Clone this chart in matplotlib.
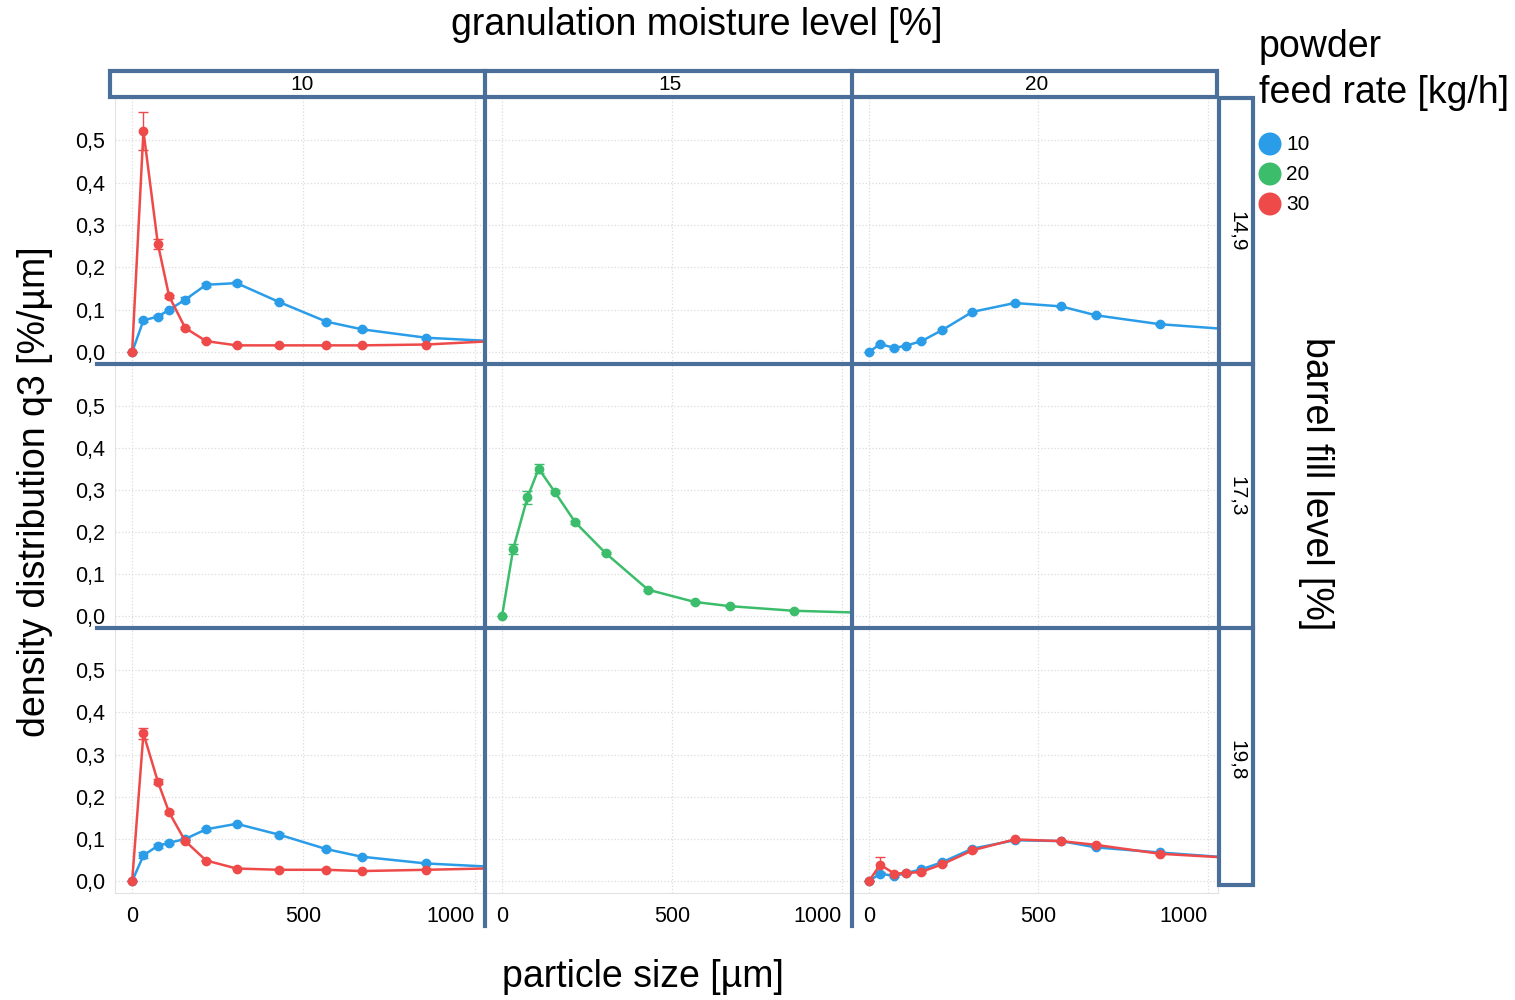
import matplotlib
matplotlib.use("Agg")
import matplotlib.pyplot as plt
from matplotlib.lines import Line2D
from matplotlib.patches import Rectangle, Ellipse

plt.rcParams['font.family'] = ['Liberation Sans', 'DejaVu Sans']

# facet levels
moisture = ['10', '15', '20']
fill_level = ['14,9', '17,3', '19,8']
feed_rate = ['10', '20', '30']
colors = {'10': '#2b9de8', '20': '#3cbd6c', '30': '#ef4a4a'}

# particle size classes [um]; last class lies beyond the shown range
size = [0, 33, 75, 108, 155, 216, 305, 430, 567, 670, 858, 1250]

# density distribution q3 [%/um] and standard deviations, per (fill row, moisture col)
q3_r0c0_f10 = [0, 0.075, 0.084, 0.100, 0.124, 0.159, 0.163, 0.118, 0.072, 0.054, 0.034, 0.018]
sd_r0c0_f10 = [0, 0.004, 0.003, 0.003, 0.006, 0.005, 0.004, 0.003, 0.003, 0.003, 0.002, 0]
q3_r0c0_f30 = [0, 0.522, 0.256, 0.132, 0.057, 0.026, 0.016, 0.016, 0.016, 0.016, 0.018, 0.034]
sd_r0c0_f30 = [0, 0.044, 0.012, 0.004, 0.003, 0.002, 0.001, 0.001, 0.001, 0.001, 0.001, 0]

q3_r0c2_f10 = [0, 0.019, 0.010, 0.015, 0.026, 0.052, 0.095, 0.116, 0.108, 0.087, 0.066, 0.043]
sd_r0c2_f10 = [0, 0.002, 0.002, 0.002, 0.002, 0.002, 0.002, 0.002, 0.002, 0.002, 0.002, 0]

q3_r1c1_f20 = [0, 0.160, 0.283, 0.351, 0.296, 0.223, 0.150, 0.063, 0.034, 0.024, 0.013, 0.004]
sd_r1c1_f20 = [0, 0.013, 0.016, 0.010, 0.004, 0.004, 0.003, 0.002, 0.002, 0.001, 0.001, 0]

q3_r2c0_f10 = [0, 0.061, 0.084, 0.091, 0.100, 0.123, 0.136, 0.110, 0.076, 0.058, 0.042, 0.026]
sd_r2c0_f10 = [0, 0.007, 0.005, 0.004, 0.003, 0.004, 0.003, 0.004, 0.003, 0.002, 0.002, 0]
q3_r2c0_f30 = [0, 0.350, 0.236, 0.163, 0.095, 0.049, 0.030, 0.027, 0.027, 0.024, 0.027, 0.034]
sd_r2c0_f30 = [0, 0.014, 0.006, 0.004, 0.003, 0.002, 0.001, 0.001, 0.001, 0.001, 0.001, 0]

q3_r2c2_f10 = [0, 0.018, 0.012, 0.019, 0.028, 0.045, 0.077, 0.097, 0.095, 0.080, 0.068, 0.045]
sd_r2c2_f10 = [0, 0.002, 0.002, 0.002, 0.002, 0.002, 0.002, 0.002, 0.002, 0.002, 0.002, 0]
q3_r2c2_f30 = [0, 0.039, 0.018, 0.019, 0.022, 0.040, 0.073, 0.099, 0.095, 0.086, 0.065, 0.047]
sd_r2c2_f30 = [0, 0.018, 0.002, 0.002, 0.002, 0.002, 0.002, 0.002, 0.002, 0.002, 0.002, 0]

panels = {
    (0, 0): [('10', q3_r0c0_f10, sd_r0c0_f10), ('30', q3_r0c0_f30, sd_r0c0_f30)],
    (0, 2): [('10', q3_r0c2_f10, sd_r0c2_f10)],
    (1, 1): [('20', q3_r1c1_f20, sd_r1c1_f20)],
    (2, 0): [('10', q3_r2c0_f10, sd_r2c0_f10), ('30', q3_r2c0_f30, sd_r2c0_f30)],
    (2, 2): [('10', q3_r2c2_f10, sd_r2c2_f10), ('30', q3_r2c2_f30, sd_r2c2_f30)],
}

W, H = 1515, 1000
fig = plt.figure(figsize=(W / 100, H / 100), dpi=100)

col_edges = [115, 485, 852, 1218]
row_edges = [98, 364, 628, 893]
frame = '#4a6f9b'


def px_box(x0, y0, x1, y1):
    return [x0 / W, 1 - y1 / H, (x1 - x0) / W, (y1 - y0) / H]


def fx(x):
    return x / W


def fy(y):
    return 1 - y / H


for r in range(3):
    for c in range(3):
        ax = fig.add_axes(px_box(col_edges[c], row_edges[r], col_edges[c + 1], row_edges[r + 1]))
        ax.set_xlim(-50, 1030)
        ax.set_ylim(-0.028, 0.6)
        ax.set_xticks([0, 500, 1000])
        ax.set_yticks([0, 0.1, 0.2, 0.3, 0.4, 0.5])
        ax.grid(True, color='#dcdcdc', ls=':', lw=0.9)
        ax.set_axisbelow(True)
        for s in ax.spines.values():
            s.set_color('#e2e2e2')
            s.set_linewidth(0.8)
        ax.tick_params(length=0, labelsize=15.5, pad=7)
        if c == 0:
            ax.set_yticklabels(['0,0', '0,1', '0,2', '0,3', '0,4', '0,5'])
        else:
            ax.set_yticklabels([])
        if r == 2:
            ax.set_xticklabels(['0', '500', '1000'])
            ax.tick_params(axis='x', pad=9)
            ax.get_xticklabels()[2].set_ha('right')
        else:
            ax.set_xticklabels([])
        for rate, q3, sd in panels.get((r, c), []):
            ax.errorbar(size, q3, yerr=sd, color=colors[rate], lw=1.8,
                        marker='o', ms=6, elinewidth=1, capsize=3.5, capthick=1)

# facet frames
lw = 3.0
fig.add_artist(Rectangle((fx(110), fy(97)), (1217 - 110) / W, (97 - 71) / H,
                         transform=fig.transFigure, fill=False, ec=frame, lw=lw))
fig.add_artist(Rectangle((fx(1219), fy(885)), (1253 - 1219) / W, (885 - 98) / H,
                         transform=fig.transFigure, fill=False, ec=frame, lw=lw))
for x in [485, 852]:
    fig.add_artist(Line2D([fx(x), fx(x)], [fy(71), fy(926)], transform=fig.transFigure,
                          color=frame, lw=lw))
for y in [364, 628]:
    fig.add_artist(Line2D([fx(97), fx(1253)], [fy(y), fy(y)], transform=fig.transFigure,
                          color=frame, lw=lw))

# facet labels
for c, lab in enumerate(moisture):
    fig.text(fx((col_edges[c] + col_edges[c + 1]) / 2 + 2), fy(85), lab,
             ha='center', va='center', fontsize=15)
for r, lab in enumerate(fill_level):
    fig.text(fx(1237), fy((row_edges[r] + row_edges[r + 1]) / 2), lab, rotation=-90,
             ha='center', va='center', fontsize=15)

# axis titles
fig.text(fx(697), fy(25), 'granulation moisture level [%]', ha='center', va='center', fontsize=27)
fig.text(fx(643), fy(977), 'particle size [µm]', ha='center', va='center', fontsize=27)
fig.text(fx(35), fy(492), 'density distribution q3 [%/µm]', rotation=90,
         ha='center', va='center', fontsize=27)
fig.text(fx(1316), fy(484), 'barrel fill level [%]', rotation=-90,
         ha='center', va='center', fontsize=27)

# legend
fig.text(fx(1259), fy(47), 'powder', ha='left', va='center', fontsize=27)
fig.text(fx(1259), fy(93), 'feed rate [kg/h]', ha='left', va='center', fontsize=27)
for i, rate in enumerate(feed_rate):
    yc = 144 + 30 * i
    fig.add_artist(Ellipse((fx(1270), fy(yc)), 23 / W, 23 / H, transform=fig.transFigure,
                           color=colors[rate], ec='none'))
    fig.text(fx(1286), fy(yc + 1), rate, ha='left', va='center', fontsize=15)

fig.savefig('out.png', dpi=100)
